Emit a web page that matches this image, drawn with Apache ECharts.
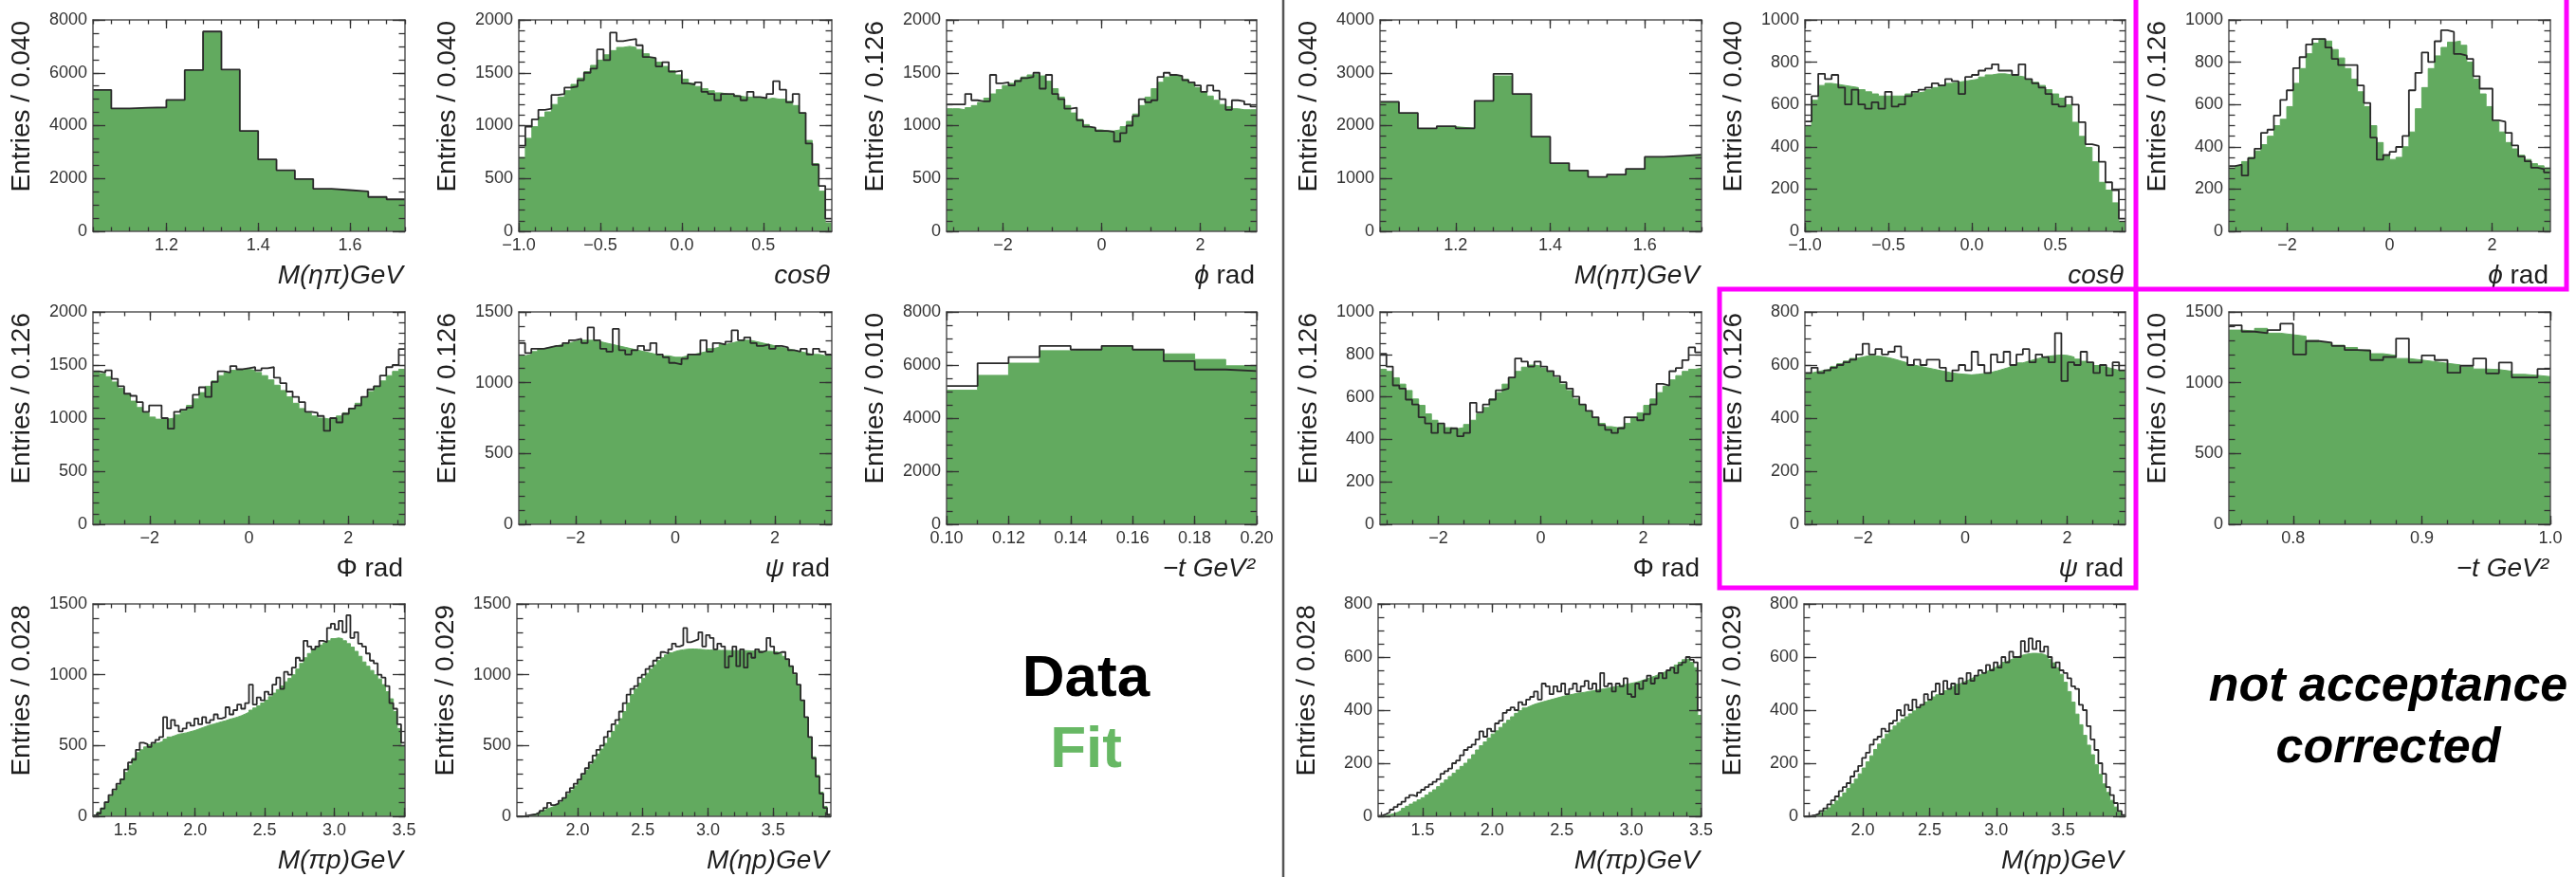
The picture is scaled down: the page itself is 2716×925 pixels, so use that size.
<!DOCTYPE html>
<html>
<head>
<meta charset="utf-8">
<script src="https://cdn.jsdelivr.net/npm/echarts@6/dist/echarts.min.js"></script>
<style>
html,body{margin:0;padding:0;background:#fff;}
#chart{width:2716px;height:925px;}
</style>
</head>
<body>
<div id="chart"></div>
<script>
// ---------------- DATA ----------------
// Left block (acceptance corrected)
const mEtaPiL_data = [5350, 4650, 4680, 4690, 4970, 6100, 7560, 6120, 3800, 2720, 2310, 1980, 1610, 1560, 1510, 1300, 1210];
const mEtaPiL_fit  = [5330, 4630, 4670, 4680, 4950, 6080, 7520, 6090, 3790, 2710, 2290, 1960, 1590, 1540, 1490, 1290, 1190];

const cosL_data = [810, 990, 1060, 1150, 1160, 1290, 1300, 1360, 1370, 1430,
  1500, 1540, 1720, 1620, 1880, 1800, 1810, 1820, 1760, 1650,
  1640, 1560, 1600, 1510, 1520, 1400, 1390, 1410, 1320, 1300,
  1240, 1300, 1300, 1280, 1240, 1320, 1270, 1260, 1300, 1420,
  1340, 1220, 1300, 1120, 830, 630, 430, 120];
const cosL_fit = [700, 880, 990, 1080, 1130, 1200, 1270, 1330, 1390, 1450,
  1510, 1570, 1620, 1670, 1710, 1740, 1750, 1740, 1720, 1680,
  1640, 1600, 1560, 1520, 1480, 1440, 1400, 1370, 1350, 1330,
  1310, 1300, 1290, 1280, 1270, 1270, 1260, 1250, 1260, 1250,
  1250, 1230, 1190, 1120, 860, 640, 380, 80];

const phiL_data = [1200, 1200, 1200, 1300, 1240, 1230, 1230, 1480, 1400, 1410,
  1380, 1420, 1450, 1460, 1500, 1350, 1480, 1300, 1250, 1160,
  1170, 1050, 990, 980, 950, 950, 940, 850, 930, 1000,
  1090, 1250, 1220, 1240, 1460, 1500, 1480, 1470, 1430, 1410,
  1380, 1320, 1380, 1330, 1250, 1150, 1240, 1230, 1200, 1180];
const phiL_fit = [1160, 1160, 1150, 1170, 1190, 1220, 1260, 1300, 1340, 1380,
  1400, 1430, 1460, 1480, 1490, 1470, 1420, 1350, 1270, 1190,
  1120, 1060, 1010, 980, 960, 950, 950, 960, 990, 1040,
  1110, 1190, 1270, 1350, 1410, 1460, 1480, 1470, 1440, 1400,
  1360, 1320, 1280, 1240, 1200, 1180, 1160, 1150, 1150, 1150];

const bigPhiL_data = [1440, 1430, 1450, 1370, 1300, 1230, 1210, 1150, 1060, 1120,
  1120, 1000, 900, 1060, 1080, 1100, 1220, 1290, 1200, 1340,
  1440, 1430, 1490, 1460, 1470, 1480, 1450, 1470, 1480, 1380,
  1330, 1250, 1200, 1150, 1060, 1050, 1020, 880, 1000, 960,
  1040, 1090, 1120, 1200, 1270, 1300, 1400, 1480, 1500, 1650];
const bigPhiL_fit = [1440, 1420, 1390, 1340, 1280, 1220, 1160, 1100, 1050, 1010,
  990, 990, 1000, 1030, 1070, 1120, 1180, 1240, 1300, 1350,
  1400, 1430, 1450, 1460, 1460, 1450, 1430, 1400, 1360, 1310,
  1260, 1200, 1140, 1090, 1050, 1020, 1000, 990, 1000, 1020,
  1050, 1090, 1140, 1190, 1250, 1300, 1350, 1400, 1440, 1460];

const psiL_data = [1280, 1210, 1240, 1240, 1250, 1260, 1260, 1280, 1300, 1310,
  1280, 1390, 1300, 1240, 1220, 1380, 1230, 1200, 1230, 1260,
  1230, 1280, 1200, 1180, 1140, 1130, 1170, 1200, 1200, 1300,
  1220, 1280, 1270, 1290, 1370, 1300, 1320, 1280, 1260, 1270,
  1240, 1260, 1250, 1230, 1220, 1240, 1200, 1240, 1220, 1200];
const psiL_fit = [1190, 1200, 1220, 1240, 1250, 1260, 1270, 1280, 1290, 1300,
  1300, 1300, 1290, 1280, 1270, 1260, 1250, 1240, 1230, 1220,
  1210, 1200, 1190, 1190, 1180, 1180, 1190, 1200, 1210, 1220,
  1240, 1250, 1270, 1280, 1290, 1300, 1300, 1290, 1280, 1270,
  1260, 1250, 1240, 1230, 1220, 1210, 1200, 1200, 1190, 1190];

const tL_data = [5210, 6070, 6300, 6720, 6580, 6720, 6580, 6150, 5830, 5770];
const tL_fit  = [5050, 5610, 6070, 6540, 6580, 6720, 6580, 6420, 6210, 5970];

const mPiPL_data = [5, 20, 55, 100, 150, 190, 230, 260, 330, 380,
  400, 470, 520, 510, 490, 520, 540, 560, 700, 620,
  680, 640, 600, 620, 660, 640, 690, 650, 700, 660,
  680, 720, 690, 700, 770, 720, 750, 790, 760, 800,
  930, 790, 840, 820, 880, 860, 930, 980, 900, 1020,
  1000, 1050, 1120, 1100, 1240, 1200, 1180, 1200, 1240, 1230,
  1330, 1360, 1320, 1380, 1300, 1420, 1260, 1300, 1220, 1200,
  1150, 1100, 1080, 1000, 980, 920, 800, 760, 650, 520];
const mPiPL_fit = [10, 30, 60, 100, 140, 180, 220, 265, 310, 360,
  410, 450, 470, 490, 505, 515, 520, 530, 545, 560,
  570, 580, 585, 590, 598, 605, 615, 625, 635, 645,
  652, 660, 668, 675, 685, 692, 700, 710, 722, 735,
  750, 765, 780, 800, 820, 845, 870, 895, 920, 950,
  975, 1000, 1040, 1080, 1120, 1150, 1175, 1195, 1210, 1225,
  1240, 1255, 1260, 1255, 1240, 1220, 1195, 1165, 1130, 1090,
  1060, 1030, 1000, 970, 930, 880, 830, 740, 620, 500];

const mEtaPL_data = [0, 0, 5, 10, 15, 25, 40, 60, 95, 80,
  90, 110, 130, 170, 200, 230, 260, 300, 340, 380,
  430, 470, 500, 560, 600, 650, 680, 740, 800, 860,
  900, 920, 980, 1000, 1040, 1060, 1100, 1120, 1160, 1150,
  1180, 1220, 1200, 1210, 1330, 1230, 1240, 1250, 1300, 1200,
  1280, 1260, 1180, 1220, 1200, 1050, 1130, 1200, 1060, 1180,
  1050, 1150, 1120, 1180, 1160, 1170, 1260, 1200, 1150, 1160,
  1160, 1110, 1060, 1010, 930, 820, 700, 560, 410, 280,
  160, 60, 10];
const mEtaPL_fit = [0, 2, 5, 10, 18, 28, 40, 52, 62, 72,
  85, 100, 125, 155, 185, 215, 250, 290, 325, 365,
  400, 440, 475, 515, 555, 600, 645, 690, 740, 800,
  860, 900, 940, 975, 1010, 1040, 1070, 1100, 1120, 1140,
  1155, 1165, 1172, 1176, 1180, 1182, 1182, 1180, 1178, 1176,
  1175, 1174, 1173, 1172, 1172, 1171, 1170, 1170, 1170, 1170,
  1170, 1168, 1168, 1167, 1166, 1165, 1165, 1163, 1160, 1150,
  1130, 1100, 1060, 1000, 920, 820, 700, 560, 420, 290,
  170, 70, 15];

// Right block (not acceptance corrected)
const mEtaPiR_data = [2450, 2240, 1950, 1990, 1950, 2470, 2980, 2600, 1790, 1290, 1150, 1030, 1075, 1180, 1410, 1430, 1450];
const mEtaPiR_fit  = [2440, 2230, 1940, 1980, 1950, 2460, 2940, 2590, 1780, 1280, 1140, 1020, 1070, 1170, 1400, 1420, 1440];

const cosR_data = [520, 640, 745, 720, 740, 680, 600, 670, 600, 580,
  610, 580, 660, 590, 600, 640, 660, 670, 680, 700,
  690, 720, 710, 650, 730, 740, 760, 770, 790, 760,
  760, 740, 790, 720, 700, 680, 650, 600, 590, 636,
  599, 516, 412, 404, 329, 232, 195, 60];
const cosR_fit = [500, 620, 690, 700, 695, 690, 685, 680, 670, 660,
  650, 640, 640, 640, 640, 650, 655, 660, 670, 680,
  690, 700, 705, 710, 715, 720, 730, 740, 745, 745,
  740, 735, 730, 720, 705, 690, 670, 650, 630, 599,
  516, 449, 397, 329, 232, 195, 135, 45];

const phiR_data = [309, 316, 264, 346, 391, 466, 481, 548, 622, 667,
  772, 824, 884, 910, 910, 869, 816, 786, 786, 786,
  690, 607, 443, 339, 361, 376, 399, 451, 667, 749,
  846, 801, 899, 951, 943, 839, 831, 816, 734, 675,
  675, 525, 518, 466, 406, 354, 331, 301, 294, 279];
const phiR_fit = [300, 310, 330, 350, 380, 410, 450, 500, 530, 590,
  700, 770, 840, 890, 910, 900, 860, 820, 770, 720,
  660, 590, 500, 420, 360, 340, 350, 400, 470, 580,
  680, 770, 830, 870, 895, 900, 880, 800, 720, 650,
  590, 520, 470, 420, 390, 360, 340, 320, 310, 300];

const bigPhiR_data = [803, 743, 654, 639, 587, 564, 504, 475, 430, 475,
  430, 452, 415, 430, 572, 527, 564, 587, 631, 639,
  691, 781, 766, 743, 766, 743, 721, 698, 669, 639,
  601, 564, 534, 504, 467, 445, 430, 452, 504, 504,
  490, 519, 564, 661, 654, 721, 736, 773, 833, 810];
const bigPhiR_fit = [730, 720, 690, 660, 630, 590, 560, 520, 490, 470,
  455, 450, 455, 470, 490, 520, 550, 590, 620, 660,
  690, 720, 740, 750, 745, 735, 715, 690, 660, 630,
  590, 560, 530, 500, 475, 460, 455, 460, 475, 500,
  525, 560, 590, 620, 650, 680, 700, 720, 730, 735];

const psiR_data = [570, 590, 570, 580, 590, 600, 610, 620, 640, 680,
  640, 660, 640, 650, 670, 630, 600, 620, 600, 620,
  620, 590, 540, 580, 600, 580, 650, 600, 570, 640,
  610, 650, 600, 640, 660, 610, 640, 630, 610, 720,
  540, 610, 600, 650, 610, 570, 600, 560, 610, 580];
const psiR_fit = [570, 575, 580, 585, 595, 605, 615, 625, 630, 635,
  635, 632, 628, 622, 615, 608, 600, 595, 590, 585,
  580, 575, 570, 567, 565, 563, 565, 568, 572, 578,
  585, 592, 600, 608, 615, 622, 628, 633, 636, 638,
  636, 630, 622, 614, 606, 598, 592, 586, 580, 576];

const tR_data = [1406, 1361, 1350, 1372, 1417, 1200, 1294, 1283, 1260, 1231,
  1227, 1160, 1182, 1312, 1142, 1193, 1160, 1070, 1120, 1171,
  1066, 1142, 1037, 1037, 1097];
const tR_fit = [1372, 1366, 1384, 1350, 1339, 1328, 1299, 1283, 1265, 1249,
  1231, 1205, 1193, 1171, 1160, 1149, 1137, 1126, 1111, 1097,
  1093, 1081, 1059, 1052, 1043];

const mPiPR_data = [2, 8, 15, 25, 35, 45, 55, 70, 80, 75,
  90, 100, 110, 120, 130, 140, 160, 170, 180, 200,
  210, 230, 250, 260, 270, 290, 320, 300, 330, 320,
  350, 360, 390, 400, 410, 400, 430, 420, 440, 450,
  470, 440, 500, 490, 460, 490, 470, 500, 460, 480,
  500, 470, 490, 510, 480, 500, 470, 540, 490, 500,
  470, 500, 490, 520, 460, 450, 500, 480, 510, 530,
  500, 520, 540, 520, 550, 560, 540, 570, 580, 600,
  590, 580, 400];
const mPiPR_fit = [0, 3, 6, 10, 15, 22, 30, 38, 46, 54,
  62, 70, 80, 90, 100, 112, 125, 137, 150, 162,
  175, 188, 200, 215, 232, 250, 266, 280, 295, 310,
  322, 335, 350, 362, 375, 388, 398, 408, 415, 421,
  426, 430, 434, 438, 442, 446, 450, 454, 457, 460,
  463, 465, 467, 470, 472, 475, 478, 480, 483, 486,
  489, 492, 495, 498, 501, 504, 508, 513, 518, 523,
  528, 534, 540, 546, 552, 560, 570, 580, 590, 594,
  580, 560, 380];

const mEtaPR_data = [0, 2, 5, 10, 20, 30, 45, 60, 75, 95,
  110, 125, 150, 170, 190, 220, 240, 270, 290, 300,
  330, 320, 350, 360, 400, 380, 420, 400, 440, 410,
  420, 460, 440, 470, 500, 460, 510, 480, 500, 460,
  520, 500, 540, 510, 530, 550, 540, 570, 550, 580,
  560, 600, 580, 620, 600, 600, 660, 620, 670, 630,
  660, 620, 640, 600, 560, 580, 550, 540, 520, 490,
  480, 420, 400, 340, 290, 250, 200, 160, 110, 80,
  50, 20, 5];
const mEtaPR_fit = [0, 0, 2, 6, 14, 22, 32, 45, 58, 72,
  88, 105, 122, 140, 160, 182, 205, 228, 252, 272,
  292, 310, 325, 340, 353, 365, 375, 386, 397, 408,
  420, 430, 440, 450, 458, 465, 473, 481, 489, 497,
  504, 510, 517, 524, 530, 537, 544, 551, 558, 565,
  572, 580, 587, 594, 600, 605, 609, 612, 614, 614,
  613, 610, 603, 592, 578, 560, 535, 505, 470, 430,
  385, 345, 305, 268, 232, 195, 158, 122, 90, 60,
  35, 15, 4];

// Tick labels
const xTicksMEtaPi = [1.2, 1.4, 1.6];
const xTicksCos = [-1.0, -0.5, 0.0, 0.5];
const xTicksAngle = [-2, 0, 2];
const xTicksTLow = [0.10, 0.12, 0.14, 0.16, 0.18, 0.20];
const xTicksTHigh = [0.8, 0.9, 1.0];
const xTicksMPiP = [1.5, 2.0, 2.5, 3.0, 3.5];
const xTicksMEtaP = [2.0, 2.5, 3.0, 3.5];
const yTicks8000 = [0, 2000, 4000, 6000, 8000];
const yTicks4000 = [0, 1000, 2000, 3000, 4000];
const yTicks2000 = [0, 500, 1000, 1500, 2000];
const yTicks1500 = [0, 500, 1000, 1500];
const yTicks1000 = [0, 200, 400, 600, 800, 1000];
const yTicks800 = [0, 200, 400, 600, 800];

// Axis titles
const T_METAPI = '{i|M(ηπ)GeV}';
const T_COS = '{i|cosθ}';
const T_PHI = '{i|ϕ}{n| rad}';
const T_BIGPHI = '{n|Φ rad}';
const T_PSI = '{i|ψ}{n| rad}';
const T_T = '{i|\u2212t GeV²}';
const T_MPIP = '{i|M(πp)GeV}';
const T_METAP = '{i|M(ηp)GeV}';

// ---------------- LAYOUT ----------------
const PI = Math.PI;
const FONT = '"Liberation Sans", Arial, Helvetica, sans-serif';
const GREEN = '#62aa5f';
const ROW = [[21, 244], [329, 553], [637, 861]];
const COL = [[98, 427], [547, 877], [998, 1325], [1455, 1794], [1903, 2241], [2350, 2689]];
const COLB = [[98, 427], [545, 876], [1453, 1794], [1902, 2241]];

function P(col, row, xMin, xMax, data, fit, xTicks, xMinor, xDec, yTicks, yMinor, yTitle, xTitle) {
  return {box: [col[0], row[0], col[1], row[1]], xMin, xMax, data, fit, xTicks, xMinor, xDec, yTicks, yMinor, yTitle, xTitle};
}
const panels = [
  P(COL[0], ROW[0], 1.04, 1.72, mEtaPiL_data, mEtaPiL_fit, xTicksMEtaPi, 0.04, 1, yTicks8000, 500, 'Entries / 0.040', T_METAPI),
  P(COL[1], ROW[0], -1, 0.92, cosL_data, cosL_fit, xTicksCos, 0.1, 1, yTicks2000, 100, 'Entries / 0.040', T_COS),
  P(COL[2], ROW[0], -PI, PI, phiL_data, phiL_fit, xTicksAngle, 0.5, 0, yTicks2000, 100, 'Entries / 0.126', T_PHI),
  P(COL[0], ROW[1], -PI, PI, bigPhiL_data, bigPhiL_fit, xTicksAngle, 0.5, 0, yTicks2000, 100, 'Entries / 0.126', T_BIGPHI),
  P(COL[1], ROW[1], -PI, PI, psiL_data, psiL_fit, xTicksAngle, 0.5, 0, yTicks1500, 100, 'Entries / 0.126', T_PSI),
  P(COL[2], ROW[1], 0.10, 0.20, tL_data, tL_fit, xTicksTLow, 0.01, 2, yTicks8000, 500, 'Entries / 0.010', T_T),
  P(COLB[0], ROW[2], 1.267, 3.507, mPiPL_data, mPiPL_fit, xTicksMPiP, 0.1, 1, yTicks1500, 100, 'Entries / 0.028', T_MPIP),
  P(COLB[1], ROW[2], 1.535, 3.942, mEtaPL_data, mEtaPL_fit, xTicksMEtaP, 0.1, 1, yTicks1500, 100, 'Entries / 0.029', T_METAP),
  P(COL[3], ROW[0], 1.04, 1.72, mEtaPiR_data, mEtaPiR_fit, xTicksMEtaPi, 0.04, 1, yTicks4000, 200, 'Entries / 0.040', T_METAPI),
  P(COL[4], ROW[0], -1, 0.92, cosR_data, cosR_fit, xTicksCos, 0.1, 1, yTicks1000, 50, 'Entries / 0.040', T_COS),
  P(COL[5], ROW[0], -PI, PI, phiR_data, phiR_fit, xTicksAngle, 0.5, 0, yTicks1000, 50, 'Entries / 0.126', T_PHI),
  P(COL[3], ROW[1], -PI, PI, bigPhiR_data, bigPhiR_fit, xTicksAngle, 0.5, 0, yTicks1000, 50, 'Entries / 0.126', T_BIGPHI),
  P(COL[4], ROW[1], -PI, PI, psiR_data, psiR_fit, xTicksAngle, 0.5, 0, yTicks800, 50, 'Entries / 0.126', T_PSI),
  P(COL[5], ROW[1], 0.75, 1.0, tR_data, tR_fit, xTicksTHigh, 0.02, 1, yTicks1500, 100, 'Entries / 0.010', T_T),
  P(COLB[2], ROW[2], 1.18, 3.504, mPiPR_data, mPiPR_fit, xTicksMPiP, 0.1, 1, yTicks800, 50, 'Entries / 0.028', T_MPIP),
  P(COLB[3], ROW[2], 1.56, 3.967, mEtaPR_data, mEtaPR_fit, xTicksMEtaP, 0.1, 1, yTicks800, 50, 'Entries / 0.029', T_METAP)
];

function fmtTick(v, dec) {
  const s = Math.abs(v).toFixed(dec);
  return (v < -1e-9 ? '\u2212' : '') + s;
}
function minorList(majors, step, min, max) {
  const out = [];
  const s = majors[0];
  for (let k = 0; ; k++) { const v = s - k * step; if (v < min - 1e-9) break; out.push(+v.toFixed(6)); }
  for (let k = 1; ; k++) { const v = s + k * step; if (v > max + 1e-9) break; out.push(+v.toFixed(6)); }
  return out.sort((a, b) => a - b);
}
function histPts(vals, min, max) {
  const w = (max - min) / vals.length;
  const pts = vals.map((v, i) => [min + i * w, v]);
  pts.push([max, vals[vals.length - 1]]);
  return pts;
}

const grids = [], xAxes = [], yAxes = [], series = [], graphics = [];
const lineStyleAxis = {color: '#555', width: 1.5};
const tickStyle = {color: '#333', width: 1.3};

panels.forEach((p, g) => {
  const [l, t, r, b] = p.box;
  grids.push({left: l, top: t, width: r - l, height: b - t, show: false});
  const yMax = p.yTicks[p.yTicks.length - 1];
  const xMinorVals = minorList(p.xTicks, p.xMinor, p.xMin, p.xMax);
  const yMinorVals = minorList(p.yTicks, p.yMinor, 0, yMax);
  const xs = [
    ['bottom', p.xTicks, 9, true, true],
    ['bottom', xMinorVals, 4.5, false, false],
    ['top', p.xTicks, 9, false, true],
    ['top', xMinorVals, 4.5, false, false]
  ];
  xs.forEach(([pos, vals, len, lab, line]) => {
    xAxes.push({
      type: 'value', gridIndex: g, position: pos, min: p.xMin, max: p.xMax, z: 5,
      axisLine: {show: line, onZero: false, lineStyle: lineStyleAxis},
      axisTick: {show: true, inside: true, length: len, customValues: vals, lineStyle: tickStyle},
      axisLabel: {show: lab, customValues: p.xTicks, margin: 6, fontSize: 18, color: '#333', fontFamily: FONT,
        formatter: v => fmtTick(v, p.xDec)},
      splitLine: {show: false}, minorTick: {show: false}, minorSplitLine: {show: false}
    });
  });
  const ys = [
    ['left', p.yTicks, 13, true, true],
    ['left', yMinorVals, 6.5, false, false],
    ['right', p.yTicks, 13, false, true],
    ['right', yMinorVals, 6.5, false, false]
  ];
  ys.forEach(([pos, vals, len, lab, line]) => {
    yAxes.push({
      type: 'value', gridIndex: g, position: pos, min: 0, max: yMax, z: 5,
      axisLine: {show: line, onZero: false, lineStyle: lineStyleAxis},
      axisTick: {show: true, inside: true, length: len, customValues: vals, lineStyle: tickStyle},
      axisLabel: {show: lab, customValues: p.yTicks, margin: 6, fontSize: 18, color: '#333', fontFamily: FONT,
        formatter: v => String(Math.round(v))},
      splitLine: {show: false}, minorTick: {show: false}, minorSplitLine: {show: false}
    });
  });
  series.push({
    type: 'line', xAxisIndex: 4 * g, yAxisIndex: 4 * g, step: 'end', symbol: 'none', showSymbol: false,
    data: histPts(p.fit, p.xMin, p.xMax), z: 2, silent: true,
    lineStyle: {color: GREEN, width: 1}, areaStyle: {color: GREEN, opacity: 1}
  });
  series.push({
    type: 'line', xAxisIndex: 4 * g, yAxisIndex: 4 * g, step: 'end', symbol: 'none', showSymbol: false,
    data: histPts(p.data, p.xMin, p.xMax), z: 3, silent: true,
    lineStyle: {color: '#2a2a2a', width: 1.8}
  });
  graphics.push({
    type: 'text', x: l - 75, y: t + 1, rotation: Math.PI / 2, silent: true,
    style: {text: p.yTitle, fontSize: 28, fontFamily: FONT, fill: '#1e1e1e',
      align: 'right', verticalAlign: 'middle', textAlign: 'right', textVerticalAlign: 'middle'}
  });
  graphics.push({
    type: 'text', x: r - 2, y: b + 47, silent: true,
    style: {text: p.xTitle, fontSize: 28, fontFamily: FONT, fill: '#1e1e1e',
      align: 'right', verticalAlign: 'middle', textAlign: 'right', textVerticalAlign: 'middle',
      rich: {
        i: {fontStyle: 'italic', fontSize: 28, fontFamily: FONT, fill: '#1e1e1e'},
        n: {fontSize: 28, fontFamily: FONT, fill: '#1e1e1e'}
      }}
  });
});

// Divider and highlight boxes
graphics.push({type: 'line', silent: true, shape: {x1: 1353, y1: 0, x2: 1353, y2: 925}, style: {stroke: '#555', lineWidth: 2.5}});
graphics.push({type: 'rect', silent: true, shape: {x: 2252, y: -10, width: 454, height: 315}, style: {fill: 'rgba(0,0,0,0)', stroke: '#ff00ff', lineWidth: 5}});
graphics.push({type: 'rect', silent: true, shape: {x: 1813, y: 305, width: 439, height: 315}, style: {fill: 'rgba(0,0,0,0)', stroke: '#ff00ff', lineWidth: 5}});

// Legend-like annotations
function bigText(text, x, y, size, color, italic) {
  return {type: 'text', x, y, silent: true,
    style: {text, fontSize: size, fontFamily: FONT, fontWeight: 'bold', fontStyle: italic ? 'italic' : 'normal', fill: color,
      align: 'center', verticalAlign: 'middle', textAlign: 'center', textVerticalAlign: 'middle'}};
}
graphics.push(bigText('Data', 1145, 717, 62, '#000', false));
graphics.push(bigText('Fit', 1145, 792, 62, '#67b864', false));
graphics.push(bigText('not acceptance', 2518, 725, 52, '#000', true));
graphics.push(bigText('corrected', 2518, 790, 52, '#000', true));

const chart = echarts.init(document.getElementById('chart'), null, {renderer: 'canvas'});
chart.setOption({
  backgroundColor: '#fff',
  animation: false,
  grid: grids,
  xAxis: xAxes,
  yAxis: yAxes,
  series: series,
  graphic: graphics
});
</script>
</body>
</html>
